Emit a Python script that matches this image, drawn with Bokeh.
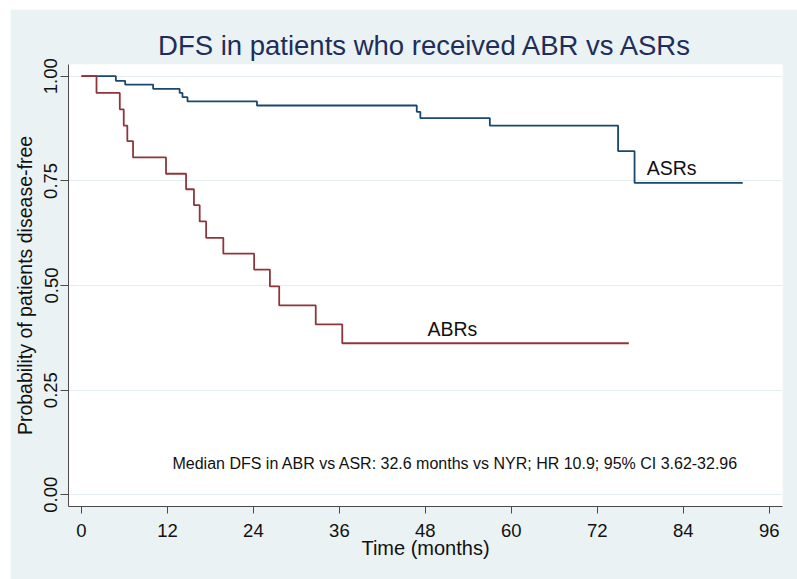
import math
from bokeh.plotting import figure
from bokeh.models import Range1d, FixedTicker, Label, PrintfTickFormatter
from bokeh.embed import file_html
from bokeh.resources import INLINE

# ---- data ----
asr_time = [0, 4.8, 6.1, 10.0, 13.7, 14.1, 14.8, 24.5, 46.8, 47.3, 57.0, 74.9, 77.2, 92.3]
asr_surv = [1.0, 0.989, 0.980, 0.970, 0.960, 0.950, 0.940, 0.930, 0.915, 0.900, 0.882, 0.821, 0.745, 0.745]

abr_time = [0, 2.1, 5.35, 5.9, 6.4, 7.2, 11.8, 14.6, 15.7, 16.5, 17.4, 19.8, 24.1, 26.3, 27.6, 32.7, 36.4, 76.4]
abr_surv = [1.0, 0.960, 0.921, 0.882, 0.845, 0.806, 0.767, 0.730, 0.692, 0.653, 0.614, 0.576, 0.538, 0.498, 0.4525, 0.407, 0.362, 0.362]

x_ticks = [0, 12, 24, 36, 48, 60, 72, 84, 96]
y_ticks = [0.0, 0.25, 0.5, 0.75, 1.0]

title_text = "DFS in patients who received ABR vs ASRs"
x_title = "Time (months)"
y_title = "Probability of patients disease-free"
asr_name = "ASRs"
abr_name = "ABRs"
note_text = "Median DFS in ABR vs ASR: 32.6 months vs NYR; HR 10.9; 95% CI 3.62-32.96"

FONT = "Liberation Sans"
BG = "#EAF2F3"
NAVY = "#1A476F"
MAROON = "#90353B"

p = figure(width=787, height=570, output_backend="svg", toolbar_location=None,
           x_range=Range1d(-1.81, 97.85), y_range=Range1d(-0.028, 1.028),
           min_border_left=58, min_border_right=15, min_border_top=55, min_border_bottom=73,
           background_fill_color="white", border_fill_color=BG)
p.margin = (9, 0, 0, 10)
p.outline_line_color = None

p.title.text = title_text
p.title.align = "center"
p.title.text_font = FONT
p.title.text_font_size = "27.5px"
p.title.text_font_style = "normal"
p.title.text_color = "#1F2D5A"
p.title.offset = 0
p.title.standoff = 8

# grids
p.xgrid.grid_line_color = None
p.ygrid.ticker = FixedTicker(ticks=y_ticks)
p.ygrid.grid_line_color = "#E3ECEF"
p.ygrid.grid_line_width = 1

# x axis
p.xaxis.ticker = FixedTicker(ticks=x_ticks)
p.xaxis.axis_label = x_title
p.xaxis.axis_label_text_font = FONT
p.xaxis.axis_label_text_font_size = "20px"
p.xaxis.axis_label_text_font_style = "normal"
p.xaxis.axis_label_standoff = -3
p.xaxis.major_label_text_font = FONT
p.xaxis.major_label_text_font_size = "18.5px"
p.xaxis.major_label_standoff = 10
p.xaxis.major_tick_in = 0
p.xaxis.major_tick_out = 7
p.xaxis.minor_tick_line_color = None

# y axis
p.yaxis.ticker = FixedTicker(ticks=y_ticks)
p.yaxis.formatter = PrintfTickFormatter(format="%.2f")
p.yaxis.axis_label = y_title
p.yaxis.axis_label_text_font = FONT
p.yaxis.axis_label_text_font_size = "19.5px"
p.yaxis.axis_label_text_font_style = "normal"
p.yaxis.axis_label_standoff = 6
p.yaxis.major_label_text_font = FONT
p.yaxis.major_label_text_font_size = "18.5px"
p.yaxis.major_label_orientation = "vertical"
p.yaxis.major_label_standoff = 3
p.yaxis.major_tick_in = 0
p.yaxis.major_tick_out = 8
p.yaxis.minor_tick_line_color = None

for ax in (p.xaxis, p.yaxis):
    ax.axis_line_color = "#4A4A4A"
    ax.major_tick_line_color = "#4A4A4A"
    ax.major_label_text_color = "#111111"
    ax.axis_label_text_color = "#111111"

# curves
p.step(asr_time, asr_surv, mode="after", line_color=NAVY, line_width=1.8)
p.step(abr_time, abr_surv, mode="after", line_color=MAROON, line_width=1.8)

# labels
p.add_layout(Label(x=78.9, y=0.781, text=asr_name, text_font=FONT, text_font_size="19.5px",
                   text_baseline="middle", text_color="#111111"))
p.add_layout(Label(x=48.3, y=0.395, text=abr_name, text_font=FONT, text_font_size="19.5px",
                   text_baseline="middle", text_color="#111111"))
p.add_layout(Label(x=12.7, y=0.075, text=note_text, text_font=FONT, text_font_size="16px",
                   text_baseline="middle", text_color="#111111"))

open("out.html", "w").write(file_html(p, INLINE))
